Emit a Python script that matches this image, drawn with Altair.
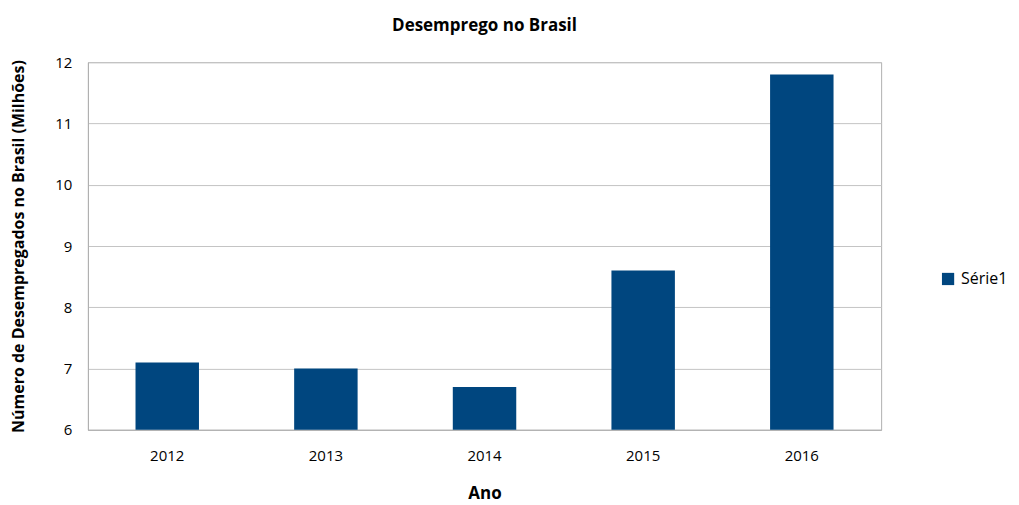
import altair as alt
import pandas as pd

anos = ["2012", "2013", "2014", "2015", "2016"]
valores = [7.1, 7.0, 6.7, 8.6, 11.8]
serie = ["Série1"] * 5

df = pd.DataFrame({"Ano": anos, "Valor": valores, "Serie": serie})

FONT = "Open Sans"
COLOR = "#00467F"

chart = alt.Chart(df).mark_bar(color=COLOR).encode(
    x=alt.X("Ano:N", title="Ano", sort=anos,
            scale=alt.Scale(paddingInner=0.6, paddingOuter=0.3),
            axis=alt.Axis(labelAngle=0, labelFontSize=15, labelFont=FONT, labelColor="#000000",
                          titleFontSize=17, titleFont=FONT, titleFontWeight="bold", titleColor="#000000",
                          ticks=False, domainColor="#b0b0b0", labelPadding=19, titlePadding=22)),
    y=alt.Y("Valor:Q", title="Número de Desempregados no Brasil (Milhões)",
            scale=alt.Scale(domain=[6, 12], zero=False, nice=False),
            axis=alt.Axis(values=[6, 7, 8, 9, 10, 11, 12], labelFontSize=15, labelFont=FONT,
                          labelColor="#000000", titleFontSize=16, titleFont=FONT,
                          titleFontWeight="bold", titleColor="#000000", ticks=False,
                          domainColor="#b0b0b0", gridColor="#c4c4c4", labelPadding=16,
                          titlePadding=28)),
    y2=alt.datum(6),
    color=alt.Color("Serie:N", scale=alt.Scale(domain=["Série1"], range=[COLOR]),
                    legend=alt.Legend(title=None, orient="none", legendX=853, legendY=209,
                                      symbolType="square", symbolSize=150, labelFontSize=16,
                                      labelFont=FONT, labelColor="#000000", symbolStrokeWidth=0,
                                      labelOffset=5)),
).properties(
    width=794, height=368,
    title=alt.Title("Desemprego no Brasil", fontSize=17, font=FONT, fontWeight="bold",
                    color="#000000", offset=20),
    autosize=alt.AutoSizeParams(type="none"),
    padding={"left": 80, "top": 54, "right": 130, "bottom": 75},
).configure_view(stroke="#b0b0b0")

chart.save("out.html", embed_options={"renderer": "svg", "actions": False})
